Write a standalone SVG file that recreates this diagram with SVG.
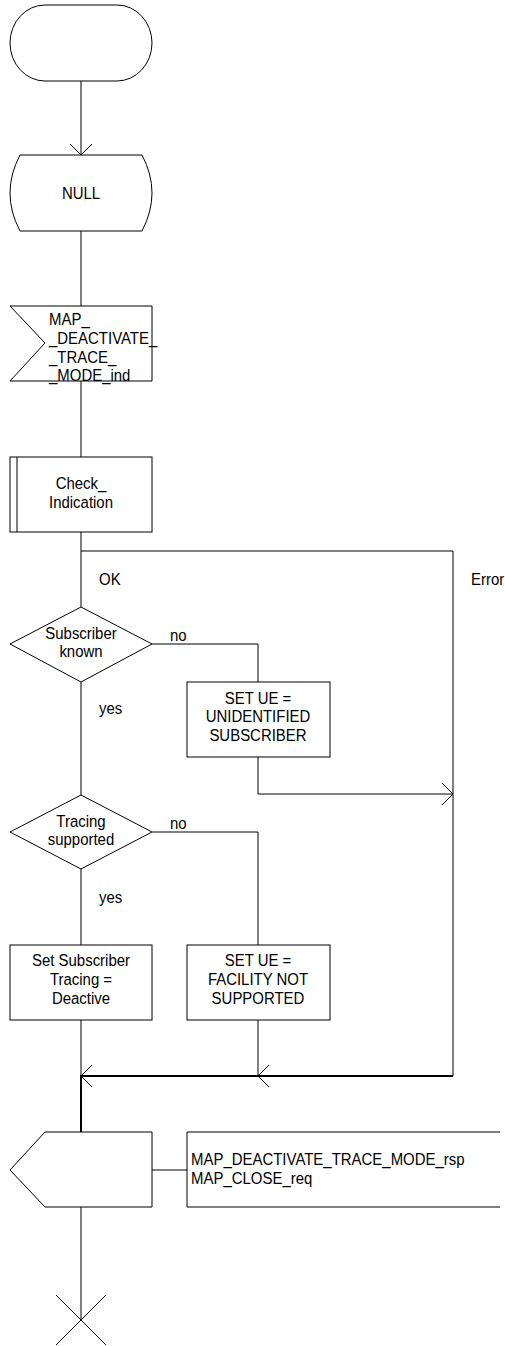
<svg xmlns="http://www.w3.org/2000/svg" width="505" height="1346" viewBox="0 0 505 1346">
<style>
.s{fill:#fff;stroke:#000;stroke-width:1}
.c{fill:none;stroke:#000;stroke-width:1}
.t{stroke-width:2}
text{font-family:"Liberation Sans",Arial,sans-serif;font-size:17px;fill:#000}
.m{text-anchor:middle}
</style>
<rect width="505" height="1346" fill="#fff"/>
<g id="connectors">
<path class="c" d="M81,81 V155"/>
<polyline class="c" points="70,144 81,155 92,144"/>
<path class="c" d="M81,231 V306"/>
<path class="c" d="M81,381 V457"/>
<path class="c" d="M81,532 V607"/>
<path class="c" d="M81,551 H453 V1076"/>
<path class="c" d="M152,644 H258 V682"/>
<path class="c" d="M258,757 V794 H453"/>
<polyline class="c" points="442,783 453,794 442,805"/>
<path class="c" d="M81,682 V795"/>
<path class="c" d="M152,832 H258 V945"/>
<path class="c" d="M81,869 V945"/>
<path class="c" d="M81,1020 V1076"/>
<path class="c" d="M258,1020 V1076"/>
<path class="c t" d="M453,1076 H81 V1132"/>
<polyline class="c" points="92,1065 81,1076 92,1087"/>
<polyline class="c" points="269,1065 258,1076 269,1087"/>
<path class="c" d="M152,1170 H187"/>
<path class="c" d="M81,1207 V1320"/>
</g>
<g id="start">
<rect class="s" x="10" y="5" width="142" height="76" rx="35" ry="38"/>
</g>
<g id="null">
<path class="s" d="M20,155 H142 Q162,193 142,231 H20 Q0,193 20,155 Z"/>
<text class="m" transform="translate(81 0) scale(.88 1)" x="0" y="199">NULL</text>
</g>
<g id="input">
<path class="s" d="M10,306 H152 V381 H10 L45,343 Z"/>
<g transform="translate(49 0) scale(.88 1)">
<text x="0" y="325.5">MAP_</text>
<text x="0" y="344">_DEACTIVATE_</text>
<text x="0" y="363">_TRACE_</text>
<text x="0" y="381">_MODE_ind</text>
</g>
</g>
<g id="check">
<rect class="s" x="10" y="457" width="142" height="75"/>
<path class="c" d="M17,457 V532"/>
<g transform="translate(81 0) scale(.88 1)">
<text class="m" x="0" y="489">Check_</text>
<text class="m" x="0" y="508">Indication</text>
</g>
</g>
<g id="labels">
<text transform="translate(99 0) scale(.88 1)" x="0" y="585">OK</text>
<text transform="translate(471 0) scale(.88 1)" x="0" y="585">Error</text>
<text transform="translate(170 0) scale(.88 1)" x="0" y="641.5">no</text>
<text transform="translate(99 0) scale(.88 1)" x="0" y="714">yes</text>
<text transform="translate(170 0) scale(.88 1)" x="0" y="829">no</text>
<text transform="translate(99 0) scale(.88 1)" x="0" y="903">yes</text>
</g>
<g id="d1">
<path class="s" d="M81,607 L152,644 L81,682 L10,644 Z"/>
<g transform="translate(81 0) scale(.88 1)">
<text class="m" x="0" y="639">Subscriber</text>
<text class="m" x="0" y="657">known</text>
</g>
</g>
<g id="ue1">
<rect class="s" x="187" y="682" width="143" height="75"/>
<g transform="translate(258 0) scale(.88 1)">
<text class="m" x="0" y="704">SET UE =</text>
<text class="m" x="0" y="722.5">UNIDENTIFIED</text>
<text class="m" x="0" y="741">SUBSCRIBER</text>
</g>
</g>
<g id="d2">
<path class="s" d="M81,795 L152,832 L81,869 L10,832 Z"/>
<g transform="translate(81 0) scale(.88 1)">
<text class="m" x="0" y="827">Tracing</text>
<text class="m" x="0" y="845">supported</text>
</g>
</g>
<g id="settrace">
<rect class="s" x="10" y="945" width="142" height="75"/>
<g transform="translate(81 0) scale(.88 1)">
<text class="m" x="0" y="966.5">Set Subscriber</text>
<text class="m" x="0" y="985">Tracing =</text>
<text class="m" x="0" y="1004">Deactive</text>
</g>
</g>
<g id="ue2">
<rect class="s" x="187" y="945" width="143" height="75"/>
<g transform="translate(258 0) scale(.88 1)">
<text class="m" x="0" y="966.5">SET UE =</text>
<text class="m" x="0" y="985">FACILITY NOT</text>
<text class="m" x="0" y="1004">SUPPORTED</text>
</g>
</g>
<g id="output">
<path class="s" d="M45,1132 H152 V1207 H45 L10,1170 Z"/>
</g>
<g id="outtext">
<path class="c" d="M500,1132 H187 V1207 H500"/>
<g transform="translate(191 0) scale(.88 1)">
<text x="0" y="1165.5">MAP_DEACTIVATE_TRACE_MODE_rsp</text>
<text x="0" y="1184.5">MAP_CLOSE_req</text>
</g>
</g>
<g id="stop">
<path class="c" d="M56,1295 L106,1345 M106,1295 L56,1345"/>
</g>
</svg>
